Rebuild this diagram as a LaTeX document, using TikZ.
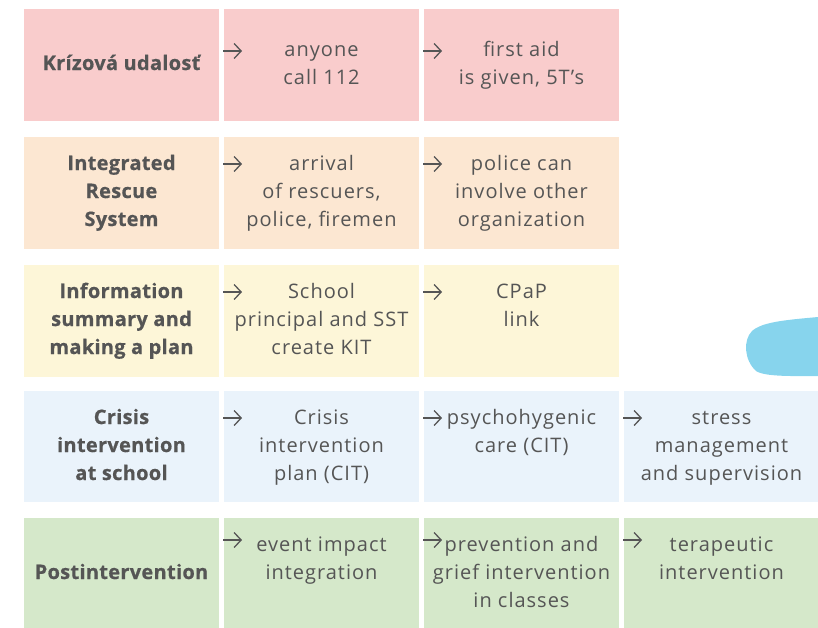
\documentclass[tikz,border=0pt]{standalone}
\usepackage{fontspec}
\setmainfont{Open Sans}[LetterSpace=5, BoldFeatures={LetterSpace=1.5, FakeBold=0.6}]
\usetikzlibrary{arrows.meta,positioning}

\definecolor{txtgray}{HTML}{555555}
\definecolor{rowred}{HTML}{F9CCCC}
\definecolor{rowpeach}{HTML}{FCE7D2}
\definecolor{rowyellow}{HTML}{FDF6D8}
\definecolor{rowblue}{HTML}{EAF3FB}
\definecolor{rowgreen}{HTML}{D5E8CA}
\definecolor{blobblue}{HTML}{87D4ED}

\begin{document}
\begin{tikzpicture}[x=1pt, y=-1pt,
  % Cell styles
  cell/.style={anchor=north west, minimum width=195pt, minimum height=112pt,
               inner sep=0pt, outer sep=0pt},
  % Text styles (anchored on the baseline of the last line)
  head/.style={font=\fontsize{20}{28}\selectfont\bfseries, text=txtgray,
               align=center, anchor=base, inner sep=0pt},
  item/.style={font=\fontsize{20}{28}\selectfont, text=txtgray,
               align=center, anchor=base, inner sep=0pt},
  % Arrow style
  arr/.style={-{Straight Barb[length=7pt, width=15pt]}, line width=1.3pt, txtgray},
]
\useasboundingbox (0,0) rectangle (818,627);

% === Blob behind the table ===
\fill[blobblue] (818,317) .. controls (785,320) and (762,322) .. (752,331)
  .. controls (743,340) and (744,360) .. (756,371)
  .. controls (765,377) and (795,376) .. (818,376) -- cycle;

% === Row 1: crisis event ===
\node[cell, fill=rowred] (KU1) at (24,9) {};
\node[cell, fill=rowred] (KU2) at (224,9) {};
\node[cell, fill=rowred] (KU3) at (424,9) {};
\node[head] (KUt1) at (121.5,70) {Krízová udalosť};
\node[item] (KUt2) at (321.5,84) {anyone\\call 112};
\node[item] (KUt3) at (521.5,84) {first aid\\is given, 5T's};
\draw[arr] ([xshift=-1pt,yshift=-42pt]KU2.north west) -- ++(19pt,0);
\draw[arr] ([xshift=-1pt,yshift=-42pt]KU3.north west) -- ++(19pt,0);

% === Row 2: rescue system ===
\node[cell, fill=rowpeach] (IRS1) at (24,137) {};
\node[cell, fill=rowpeach] (IRS2) at (224,137) {};
\node[cell, fill=rowpeach] (IRS3) at (424,137) {};
\node[head] (IRSt1) at (121.5,226) {Integrated\\Rescue\\System};
\node[item] (IRSt2) at (321.5,226) {arrival\\of rescuers,\\police, firemen};
\node[item] (IRSt3) at (521.5,226) {police can\\involve other\\organization};
\draw[arr] ([xshift=-1pt,yshift=-27pt]IRS2.north west) -- ++(19pt,0);
\draw[arr] ([xshift=-1pt,yshift=-27pt]IRS3.north west) -- ++(19pt,0);

% === Row 3: information and plan ===
\node[cell, fill=rowyellow] (INF1) at (24,265) {};
\node[cell, fill=rowyellow] (INF2) at (224,265) {};
\node[cell, fill=rowyellow] (INF3) at (424,265) {};
\node[head] (INFt1) at (121.5,354) {Information\\summary and\\making a plan};
\node[item] (INFt2) at (321.5,354) {School\\principal and SST\\create KIT};
\node[item] (INFt3) at (521.5,326) {CPaP\\link};
\draw[arr] ([xshift=-1pt,yshift=-27pt]INF2.north west) -- ++(19pt,0);
\draw[arr] ([xshift=-1pt,yshift=-27pt]INF3.north west) -- ++(19pt,0);

% === Row 4: crisis intervention ===
\node[cell, fill=rowblue, minimum height=111pt] (CIS1) at (24,391) {};
\node[cell, fill=rowblue, minimum height=111pt] (CIS2) at (224,391) {};
\node[cell, fill=rowblue, minimum height=111pt] (CIS3) at (424,391) {};
\node[cell, fill=rowblue, minimum height=111pt] (CIS4) at (624,391) {};
\node[head] (CISt1) at (121.5,480) {Crisis\\intervention\\at school};
\node[item] (CISt2) at (321.5,480) {Crisis\\intervention\\plan (CIT)};
\node[item] (CISt3) at (521.5,452) {psychohygenic\\care (CIT)};
\node[item] (CISt4) at (721.5,480) {stress\\management\\and supervision};
\draw[arr] ([xshift=-1pt,yshift=-27pt]CIS2.north west) -- ++(19pt,0);
\draw[arr] ([xshift=-1pt,yshift=-27pt]CIS3.north west) -- ++(19pt,0);
\draw[arr] ([xshift=-1pt,yshift=-27pt]CIS4.north west) -- ++(19pt,0);

% === Row 5: postintervention ===
\node[cell, fill=rowgreen] (POS1) at (24,518) {};
\node[cell, fill=rowgreen] (POS2) at (224,518) {};
\node[cell, fill=rowgreen] (POS3) at (424,518) {};
\node[cell, fill=rowgreen] (POS4) at (624,518) {};
\node[head] (POSt1) at (121.5,579) {Postintervention};
\node[item] (POSt2) at (321.5,579) {event impact\\integration};
\node[item] (POSt3) at (521.5,607) {prevention and\\grief intervention\\in classes};
\node[item] (POSt4) at (721.5,579) {terapeutic\\intervention};
\draw[arr] ([xshift=-1pt,yshift=-22pt]POS2.north west) -- ++(19pt,0);
\draw[arr] ([xshift=-1pt,yshift=-22pt]POS3.north west) -- ++(19pt,0);
\draw[arr] ([xshift=-1pt,yshift=-22pt]POS4.north west) -- ++(19pt,0);

\end{tikzpicture}
\end{document}
